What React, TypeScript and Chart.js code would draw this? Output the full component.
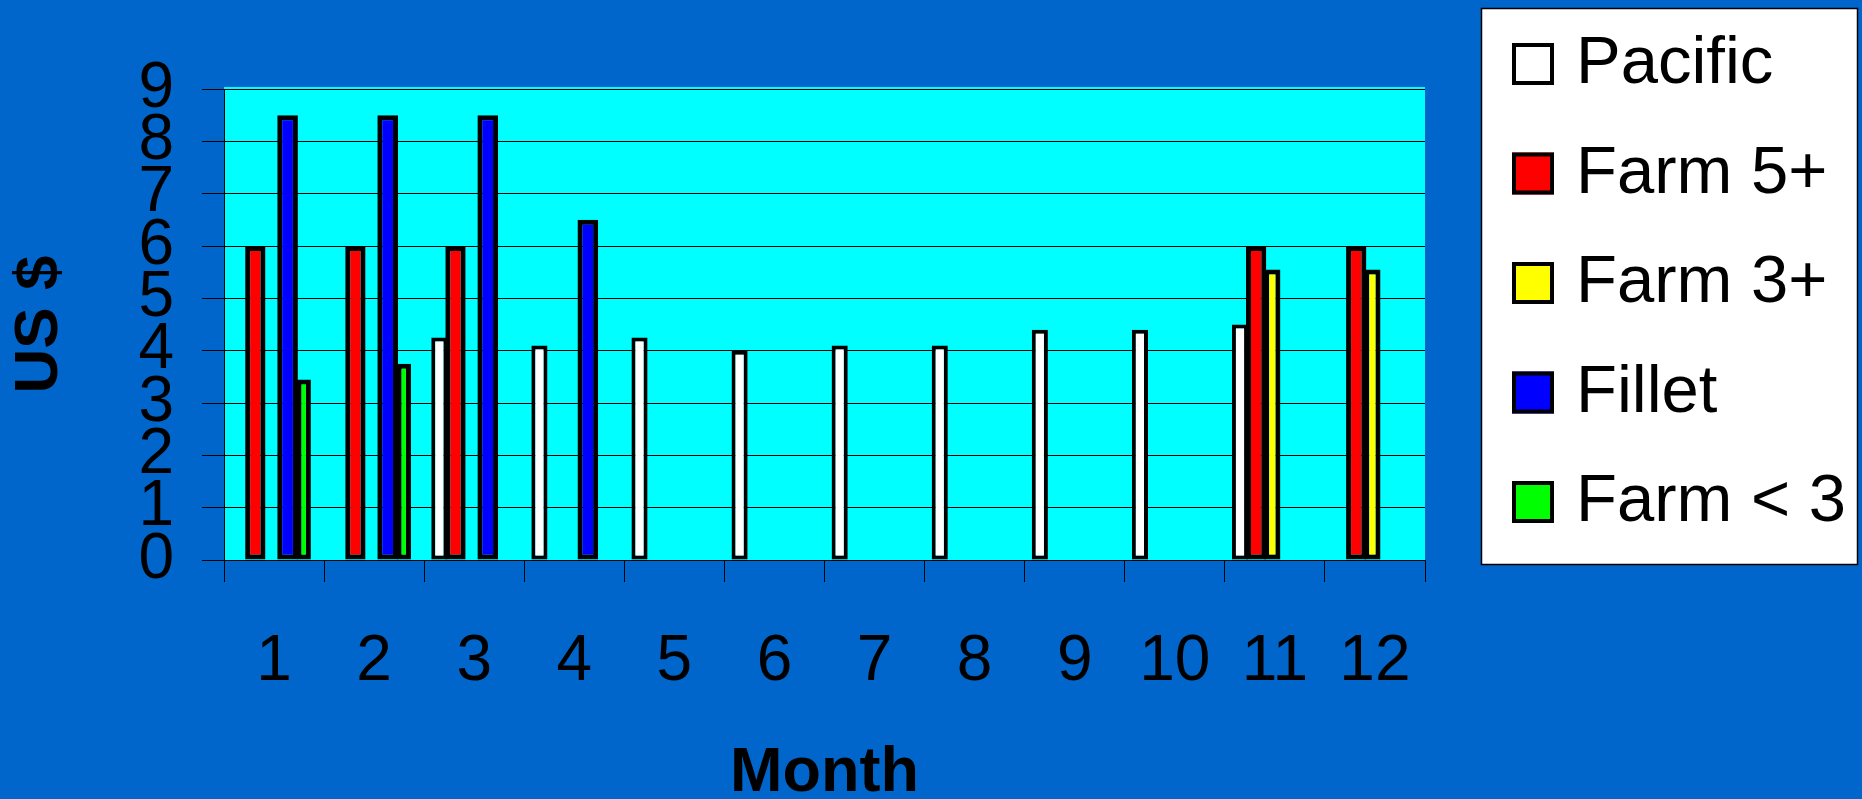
import React, { useEffect, useRef } from 'react';
import { Chart, registerables } from 'chart.js';

Chart.register(...registerables);

const months = [1, 2, 3, 4, 5, 6, 7, 8, 9, 10, 11, 12];
const monthLabels = months.map(String);
const seriesNames = ['Pacific', 'Farm 5+', 'Farm 3+', 'Fillet', 'Farm < 3'];
const pacific = [null, null, 4.25, 4.1, 4.25, 4.0, 4.1, 4.1, 4.4, 4.4, 4.5, null];
const farm5 = [6, 6, 6, null, null, null, null, null, null, null, 6, 6];
const farm3 = [null, null, null, null, null, null, null, null, null, null, 5.55, 5.55];
const fillet = [8.5, 8.5, 8.5, 6.5, null, null, null, null, null, null, null, null];
const farmLt3 = [3.45, 3.75, null, null, null, null, null, null, null, null, null, null];
const yMin = 0;
const yMax = 9;

const FONT = '"Liberation Sans", Arial, sans-serif';
const seriesColors = ['#FFFFFF', '#FF0000', '#FFFF00', '#0000FF', '#00FF00'];
const barPct = [1.0, 1.26, 1.01, 1.28, 0.89];
const borderW = [4, 5, 5, 5, 5];

const bgPlugin = {
  id: 'bgFill',
  beforeDraw(chart: any) {
    const { ctx, chartArea: a } = chart;
    ctx.save();
    ctx.fillStyle = '#0066CC';
    ctx.fillRect(0, 0, chart.width, chart.height);
    ctx.fillStyle = '#00FFFF';
    ctx.fillRect(a.left, a.top - 2, a.right - a.left, a.bottom - a.top + 2);
    ctx.restore();
  },
};

const boxLegendPlugin = {
  id: 'boxLegend',
  afterDraw(chart: any) {
    const { ctx } = chart;
    const left = 1481;
    const top = 8;
    const w = 376;
    const h = 556;
    ctx.save();
    ctx.fillStyle = '#FFFFFF';
    ctx.fillRect(left, top, w, h);
    ctx.strokeStyle = '#000000';
    ctx.lineWidth = 1.5;
    ctx.strokeRect(left + 0.5, top + 0.5, w, h);
    chart.data.datasets.forEach((ds: any, i: number) => {
      const cy = 64 + i * 109.5;
      const sx = 1512;
      const s = 42;
      const bw = 4;
      ctx.fillStyle = ds.backgroundColor;
      ctx.fillRect(sx, cy - s / 2, s, s);
      ctx.lineWidth = bw;
      ctx.strokeStyle = '#000000';
      ctx.strokeRect(sx + bw / 2, cy - s / 2 + bw / 2, s - bw, s - bw);
      ctx.fillStyle = '#000000';
      ctx.font = `67px ${FONT}`;
      ctx.textBaseline = 'middle';
      ctx.textAlign = 'left';
      ctx.fillText(ds.label, 1576, cy + 1);
    });
    ctx.restore();
  },
};

export default function App() {
  const ref = useRef<HTMLCanvasElement | null>(null);

  useEffect(() => {
    document.body.style.margin = '0';
    document.body.style.background = '#0066CC';
    const canvas = ref.current;
    if (!canvas) return;
    const series = [pacific, farm5, farm3, fillet, farmLt3];
    const chart = new Chart(canvas, {
      type: 'bar',
      data: {
        labels: monthLabels,
        datasets: series.map((arr, i) => ({
          label: seriesNames[i],
          data: months.map((m, j) => ({ x: m, y: arr[j] })),
          backgroundColor: seriesColors[i],
          borderColor: '#000000',
          borderWidth: borderW[i],
          borderSkipped: false,
          barPercentage: barPct[i],
          categoryPercentage: 0.806,
          xAxisID: 'xb',
          yAxisID: 'y',
        })),
      },
      options: {
        animation: false,
        responsive: false,
        devicePixelRatio: 1,
        layout: { padding: { left: 0, top: 89, right: 437, bottom: 0 } },
        plugins: {
          legend: { display: false },
          tooltip: { enabled: false },
        },
        scales: {
          x: {
            type: 'category',
            labels: monthLabels,
            position: 'bottom',
            offset: true,
            grid: {
              display: true,
              drawOnChartArea: false,
              drawTicks: true,
              tickLength: 22,
              color: '#000000',
              lineWidth: 1,
              offset: true,
            },
            border: { display: true, color: '#000000', width: 1 },
            ticks: {
              font: { family: FONT, size: 64 },
              color: '#000000',
              padding: 42,
              maxRotation: 0,
              autoSkip: false,
            },
            title: {
              display: true,
              text: 'Month',
              color: '#000000',
              font: { family: FONT, size: 63, weight: 'bold', lineHeight: 0.8 },
              padding: { top: 0, bottom: 0 },
            },
            afterFit: (s: any) => {
              s.height = 239;
            },
          },
          xb: {
            type: 'linear',
            display: false,
            position: 'bottom',
            min: 0.5 + 0.026,
            max: 12.5 + 0.026,
            offset: false,
            afterBuildTicks: (s: any) => {
              s.ticks = months.map((m) => ({ value: m }));
            },
          },
          y: {
            type: 'linear',
            position: 'left',
            min: yMin,
            max: yMax,
            ticks: {
              stepSize: 1,
              autoSkip: false,
              font: { family: FONT, size: 64 },
              color: '#000000',
              padding: 28,
            },
            grid: {
              color: '#000000',
              lineWidth: 1,
              tickLength: 22,
              drawTicks: true,
            },
            border: { display: true, color: '#000000', width: 1 },
            title: {
              display: true,
              text: 'US $',
              color: '#000000',
              font: { family: FONT, size: 62, weight: 'bold', lineHeight: 1.2 },
              padding: { top: 3, bottom: 0 },
            },
            afterFit: (s: any) => {
              s.width = 224;
            },
          },
        },
      } as any,
      plugins: [bgPlugin, boxLegendPlugin],
    });
    return () => chart.destroy();
  }, []);

  return (
    <div style={{ width: 1862, height: 799, background: '#0066CC' }}>
      <canvas ref={ref} width={1862} height={799} style={{ display: 'block', width: 1862, height: 799 }} />
    </div>
  );
}
